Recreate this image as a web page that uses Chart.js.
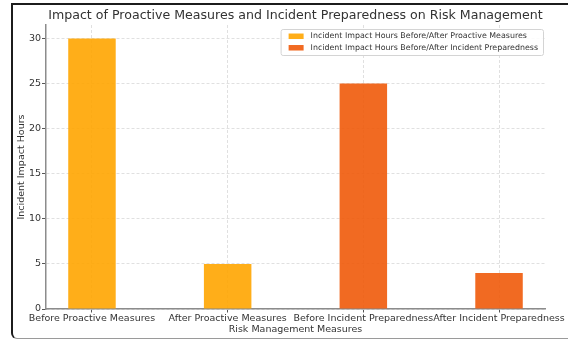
<!DOCTYPE html>
<html>
<head>
<meta charset="utf-8">
<script src="https://cdn.jsdelivr.net/npm/chart.js@4/dist/chart.umd.min.js"></script>
<style>
  html, body { margin: 0; padding: 0; background: #fff; }
  #wrap { position: relative; width: 568px; height: 341px; overflow: hidden; }
  #frame {
    position: absolute; left: 11px; top: 3px; width: 570px; height: 336px;
    border-top: 2px solid #1c1c1c; border-left: 2px solid #1c1c1c;
    border-right: none;
    border-bottom: 1px solid #9a9a9a; border-bottom-left-radius: 6px;
    box-sizing: border-box;
  }
  canvas { position: absolute; left: 0; top: 0; }
</style>
</head>
<body>
<div id="wrap">
  <div id="frame"></div>
  <canvas id="chart" width="568" height="341"></canvas>
</div>
<script>
// Categories along the x axis
const categories = [
  'Before Proactive Measures',
  'After Proactive Measures',
  'Before Incident Preparedness',
  'After Incident Preparedness'
];
// Incident impact hours for each series (null where a series has no bar)
const proactiveHours = [30, 5, null, null];
const preparednessHours = [null, null, 25, 4];
// Y axis tick values
const yTicks = [0, 5, 10, 15, 20, 25, 30];

const seriesLabels = [
  'Incident Impact Hours Before/After Proactive Measures',
  'Incident Impact Hours Before/After Incident Preparedness'
];
const seriesColors = ['rgba(255,165,0,0.9)', 'rgba(240,90,10,0.9)'];

const FONT = '"DejaVu Sans", "Liberation Sans", sans-serif';

function toPoints(values) {
  return values.map((v, i) => ({ x: i, y: v }));
}

// Boxed legend drawn inside the top-right corner of the plot area
const boxedLegend = {
  id: 'boxedLegend',
  afterDatasetsDraw(chart) {
    const { ctx, chartArea } = chart;
    const items = chart.data.datasets.map(d => ({ label: d.label, color: d.backgroundColor }));
    ctx.save();
    ctx.font = '7.9px ' + FONT;
    const textW = Math.max(...items.map(it => ctx.measureText(it.label).width));
    const padX = 8, patchW = 15, patchH = 5.5, gap = 7, rowH = 11.5, padY = 1.5;
    const w = padX + patchW + gap + textW + 5;
    const h = padY * 2 + rowH * items.length;
    const x = chartArea.right - 2.5 - w;
    const y = chartArea.top + 4;
    ctx.beginPath();
    ctx.roundRect(x + 0.5, y + 0.5, w, h, 2);
    ctx.fillStyle = 'rgba(255,255,255,0.85)';
    ctx.fill();
    ctx.strokeStyle = '#d4d4d4';
    ctx.lineWidth = 1;
    ctx.stroke();
    items.forEach((it, i) => {
      const cy = y + padY + rowH * i + rowH / 2;
      ctx.fillStyle = it.color;
      ctx.fillRect(x + padX, cy - patchH / 2, patchW, patchH);
      ctx.fillStyle = '#333';
      ctx.textBaseline = 'middle';
      ctx.textAlign = 'left';
      ctx.fillText(it.label, x + padX + patchW + gap, cy);
    });
    ctx.restore();
  }
};

new Chart(document.getElementById('chart'), {
  type: 'bar',
  data: {
    datasets: [
      {
        label: seriesLabels[0],
        data: toPoints(proactiveHours),
        backgroundColor: seriesColors[0]
      },
      {
        label: seriesLabels[1],
        data: toPoints(preparednessHours),
        backgroundColor: seriesColors[1]
      }
    ]
  },
  options: {
    responsive: false,
    animation: false,
    devicePixelRatio: 1,
    layout: { padding: { top: 0, right: 22.5, bottom: 0, left: 0 } },
    datasets: {
      bar: { grouped: false, categoryPercentage: 1, barPercentage: 0.35, borderWidth: 0 }
    },
    plugins: {
      legend: { display: false },
      tooltip: { enabled: false },
      title: {
        display: true,
        fullSize: false,
        text: 'Impact of Proactive Measures and Incident Preparedness on Risk Management',
        color: '#333',
        font: { family: FONT, size: 12.6, weight: 'normal', lineHeight: 1.2 },
        padding: { top: 8.5, bottom: 1.4 }
      }
    },
    scales: {
      x: {
        type: 'linear',
        offset: false,
        min: -0.3425,
        max: 3.3425,
        afterBuildTicks: axis => { axis.ticks = categories.map((_, i) => ({ value: i })); },
        afterFit: axis => { axis.height = 32; },
        ticks: {
          autoSkip: false, maxRotation: 0, minRotation: 0,
          color: '#333', padding: 0.5,
          font: { family: FONT, size: 9.5 },
          callback: v => categories[v] ?? ''
        },
        grid: { offset: false, color: '#e0e0e0', lineWidth: 1, tickLength: 3.5, tickColor: '#555', tickBorderDash: [] },
        border: { display: true, color: '#8c8c8c', width: 1.5, dash: [3, 2] },
        title: {
          display: true, text: 'Risk Management Measures', color: '#333',
          font: { family: FONT, size: 9.5 }, padding: { top: 0, bottom: 6 }
        }
      },
      y: {
        min: 0,
        max: 31.5,
        afterBuildTicks: axis => { axis.ticks = yTicks.map(v => ({ value: v })); },
        afterFit: axis => { axis.width = 45.5; },
        ticks: { color: '#333', padding: 1, font: { family: FONT, size: 9.5 } },
        grid: { color: '#e0e0e0', lineWidth: 1, tickLength: 3.5, tickColor: '#555', tickBorderDash: [] },
        border: { display: true, color: '#8c8c8c', width: 1.5, dash: [3, 2] },
        title: {
          display: true, text: 'Incident Impact Hours', color: '#333',
          font: { family: FONT, size: 9.5 }, padding: { top: 16, bottom: 0 }
        }
      }
    }
  },
  plugins: [boxedLegend]
});
</script>
</body>
</html>
